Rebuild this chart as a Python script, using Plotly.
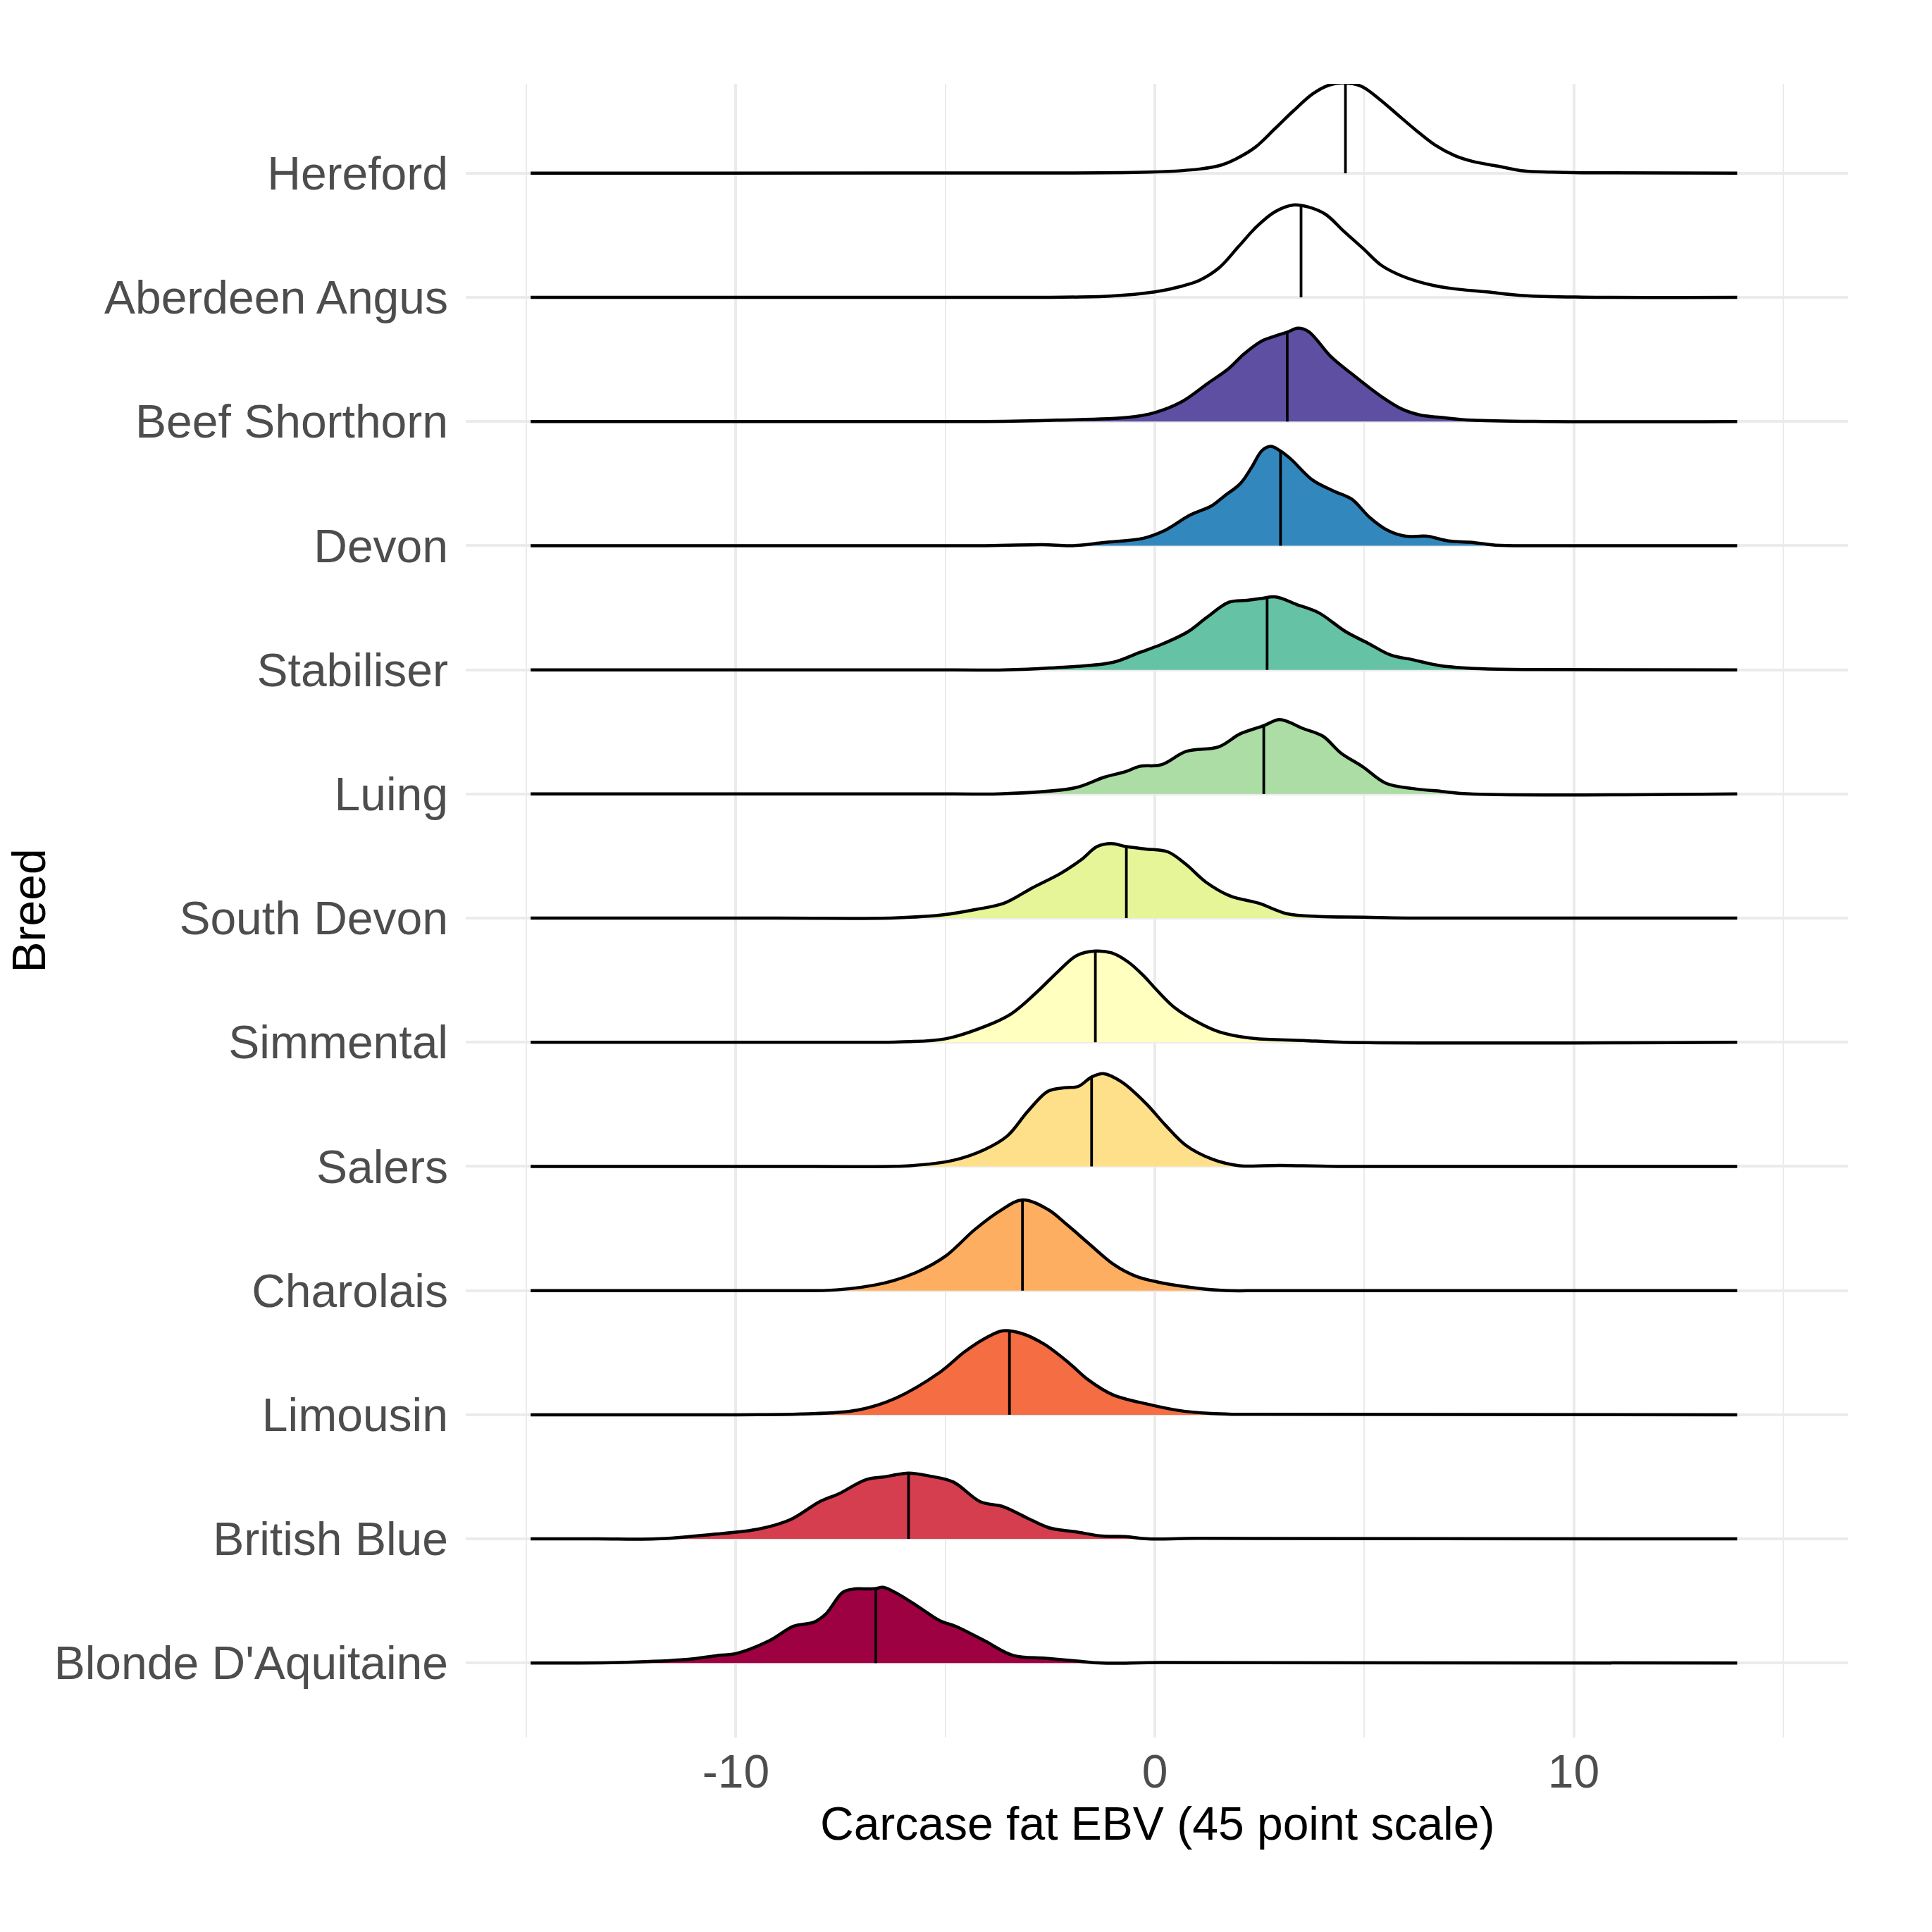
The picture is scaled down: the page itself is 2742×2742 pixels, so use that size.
import numpy as np
import plotly.graph_objects as go

# ---------------- data ----------------
breeds = ["Hereford", "Aberdeen Angus", "Beef Shorthorn", "Devon", "Stabiliser", "Luing",
          "South Devon", "Simmental", "Salers", "Charolais", "Limousin", "British Blue",
          "Blonde D'Aquitaine"]

fills = [None, None, "#5E4FA2", "#3288BD", "#66C2A5", "#ABDDA4", "#E6F598", "#FFFFBF",
         "#FEE08B", "#FDAE61", "#F46D43", "#D53E4F", "#9E0142"]

hereford_x = [-14.9, -3.2, 0, 1.07, 1.59, 1.93, 2.4, 2.87, 3.3, 3.77, 4.16, 4.5, 4.93, 5.36, 5.79,
              6.22, 6.69, 7.16, 7.59, 8.19, 8.79, 9.47, 10.2, 13.9]
hereford_h = [0, 0.002, 0.01, 0.034, 0.066, 0.114, 0.21, 0.36, 0.50, 0.64, 0.71, 0.729, 0.70, 0.597,
              0.473, 0.35, 0.227, 0.142, 0.095, 0.057, 0.019, 0.009, 0.004, 0]

angus_x = [-14.9, -3.2, -1.07, 0, 0.64, 1.07, 1.54, 2.0, 2.43, 2.87, 3.3, 3.64, 4.07, 4.5, 4.97, 5.4,
           5.87, 6.47, 7.08, 7.93, 8.79, 10.2, 13.9]
angus_h = [0, 0, 0.01, 0.044, 0.09, 0.138, 0.24, 0.41, 0.57, 0.69, 0.744, 0.73, 0.67, 0.536, 0.394,
           0.26, 0.176, 0.11, 0.072, 0.044, 0.015, 0.002, 0]

shorthorn_x = [-14.9, -4.05, -2.33, -0.62, 0, 0.63, 1.27, 1.78, 2.13, 2.56, 2.86, 3.16, 3.41, 3.67,
               4.19, 4.7, 5.39, 5.9, 6.33, 6.93, 7.53, 9.4, 13.9]
shorthorn_h = [0, 0, 0.011, 0.034, 0.072, 0.157, 0.309, 0.432, 0.545, 0.65, 0.688, 0.72, 0.752, 0.725,
               0.527, 0.384, 0.205, 0.10, 0.053, 0.03, 0.011, 0, 0]

devon_x = [-14.9, -4.05, -2.68, -1.99, -1.22, -0.27, 0.24, 0.84, 1.36, 1.66, 2.04, 2.3, 2.56, 2.77,
           2.98, 3.24, 3.76, 4.27, 4.7, 5.13, 5.56, 5.99, 6.5, 7.01, 7.53, 8.13, 9.4, 13.9]
devon_h = [0, 0, 0.008, 0, 0.025, 0.06, 0.123, 0.246, 0.322, 0.40, 0.50, 0.625, 0.767, 0.80, 0.767,
           0.70, 0.53, 0.44, 0.375, 0.227, 0.123, 0.076, 0.076, 0.038, 0.028, 0.004, 0, 0]

stabiliser_x = [-14.9, -5.73, -3.59, -2.52, -1.02, -0.38, 0.16, 0.8, 1.23, 1.77, 2.2, 2.52, 2.89, 3.38,
                3.91, 4.55, 5.09, 5.63, 6.16, 6.81, 7.77, 9.27, 13.9]
stabiliser_h = [0, 0, 0, 0.015, 0.059, 0.138, 0.205, 0.309, 0.42, 0.545, 0.56, 0.574, 0.587, 0.527,
                0.46, 0.309, 0.214, 0.119, 0.081, 0.034, 0.009, 0.002, 0]

luing_x = [-14.9, -4.9, -3.62, -1.9, -1.22, -0.7, -0.36, 0.15, 0.75, 1.53, 2.04, 2.6, 2.98, 3.54, 4.01,
           4.44, 4.96, 5.51, 6.16, 6.84, 7.53, 13.9]
luing_h = [0, 0, 0.002, 0.05, 0.134, 0.18, 0.223, 0.235, 0.343, 0.38, 0.485, 0.55, 0.60, 0.527, 0.466,
           0.33, 0.22, 0.087, 0.044, 0.021, 0, 0]

sdevon_x = [-14.9, -9.1, -6.2, -5.04, -4.27, -3.6, -2.92, -2.25, -1.76, -1.38, -1.04, -0.68, -0.22, 0.31,
            0.74, 1.22, 1.8, 2.48, 3.15, 3.92, 4.99, 6.03, 13.9]
sdevon_h = [0, 0, 0.002, 0.027, 0.07, 0.12, 0.245, 0.36, 0.47, 0.576, 0.60, 0.576, 0.557, 0.534, 0.434,
            0.29, 0.178, 0.12, 0.036, 0.013, 0.008, 0, 0]

simmental_x = [-14.9, -8.25, -5.99, -5.0, -4.04, -3.44, -2.83, -2.31, -1.86, -1.42, -1.03, -0.65, -0.28,
               0.02, 0.47, 1.08, 1.53, 2.28, 3.54, 4.5, 13.9]
simmental_h = [0, 0, 0.004, 0.028, 0.13, 0.227, 0.40, 0.57, 0.70, 0.735, 0.72, 0.65, 0.54, 0.43, 0.28,
               0.152, 0.085, 0.034, 0.015, 0, 0]

salers_x = [-14.9, -8.25, -5.84, -4.8, -4.08, -3.52, -3.03, -2.55, -2.15, -1.83, -1.51, -1.23, -0.79,
            -0.22, 0.26, 0.74, 1.38, 2.02, 2.99, 4.33, 13.9]
salers_h = [0, 0, 0.006, 0.05, 0.133, 0.246, 0.445, 0.606, 0.634, 0.644, 0.72, 0.748, 0.68, 0.51, 0.33,
            0.17, 0.057, 0.006, 0.009, 0, 0]

charolais_x = [-14.9, -9.1, -7.6, -6.47, -5.71, -5.0, -4.29, -3.68, -3.16, -2.56, -2.1, -1.58, -0.98,
               -0.45, 0.08, 0.68, 1.58, 2.69, 13.9]
charolais_h = [0, 0, 0.006, 0.06, 0.144, 0.277, 0.494, 0.646, 0.73, 0.655, 0.532, 0.38, 0.21, 0.115,
               0.068, 0.034, 0.002, 0, 0]

limousin_x = [-14.9, -9.95, -8.44, -7.09, -6.19, -5.14, -4.53, -4.0, -3.63, -3.18, -2.65, -2.05, -1.6,
              -1.0, -0.17, 0.58, 1.33, 1.84, 13.9]
limousin_h = [0, 0, 0.006, 0.038, 0.133, 0.34, 0.51, 0.625, 0.676, 0.655, 0.57, 0.417, 0.284, 0.16,
              0.085, 0.034, 0.01, 0.004, 0]

bblue_x = [-14.9, -13.3, -11.9, -10.6, -9.45, -8.7, -8.0, -7.54, -6.9, -6.45, -5.88, -5.36, -4.81, -4.17,
           -3.62, -3.08, -2.53, -1.89, -1.26, -0.71, -0.16, 1.0, 13.9]
bblue_h = [0, 0, 0, 0.035, 0.08, 0.155, 0.30, 0.364, 0.477, 0.50, 0.53, 0.505, 0.458, 0.30, 0.26, 0.174,
           0.09, 0.057, 0.023, 0.019, 0, 0.004, 0]

blonde_x = [-14.9, -12.6, -11.2, -10.4, -10.0, -9.2, -8.62, -8.13, -7.84, -7.45, -7.16, -6.87, -6.66,
            -6.49, -6.1, -5.61, -5.13, -4.74, -4.07, -3.39, -2.61, -1.94, -1.26, 0.17, 13.9]
blonde_h = [0, 0.006, 0.028, 0.062, 0.076, 0.18, 0.297, 0.33, 0.40, 0.57, 0.597, 0.597, 0.60, 0.61,
            0.55, 0.445, 0.34, 0.294, 0.18, 0.062, 0.038, 0.019, 0, 0.004, 0]

medians = [4.55, 3.49, 3.16, 3.0, 2.68, 2.6, -0.68, -1.42, -1.51, -3.16, -3.47, -5.88, -6.66]

xs_all = [hereford_x, angus_x, shorthorn_x, devon_x, stabiliser_x, luing_x, sdevon_x, simmental_x,
          salers_x, charolais_x, limousin_x, bblue_x, blonde_x]
hs_all = [hereford_h, angus_h, shorthorn_h, devon_h, stabiliser_h, luing_h, sdevon_h, simmental_h,
          salers_h, charolais_h, limousin_h, bblue_h, blonde_h]

x_ticks = [-10, 0, 10]
x_ticktext = ["-10", "0", "10"]

# ---------------- layout constants ----------------
W = H = 2742
L, R, T, B = 661, 119, 119, 276
FONT = "Liberation Sans, Arial, Helvetica, sans-serif"
n = len(breeds)

fig = go.Figure()

# draw from the bottom row upward
for i in reversed(range(n)):
    base = n - i
    xs = np.array(xs_all[i], dtype=float)
    ys = base + np.array(hs_all[i], dtype=float)
    # invisible baseline to fill against
    fig.add_trace(go.Scatter(x=[xs[0], xs[-1]], y=[base, base], mode="lines",
                             line=dict(width=0, color="rgba(0,0,0,0)"),
                             hoverinfo="skip", showlegend=False))
    fig.add_trace(go.Scatter(
        x=xs, y=ys, mode="lines",
        line=dict(color="black", width=4.5, shape="spline", smoothing=1.0),
        fill="tonexty" if fills[i] else "none",
        fillcolor=fills[i] if fills[i] else "rgba(0,0,0,0)",
        hoverinfo="skip", showlegend=False))
    m = medians[i]
    hm = float(np.interp(m, xs, np.array(hs_all[i], dtype=float)))
    fig.add_trace(go.Scatter(x=[m, m], y=[base, base + hm], mode="lines",
                             line=dict(color="black", width=3.8),
                             hoverinfo="skip", showlegend=False))

plot_w = W - L - R
plot_h = H - T - B

fig.update_layout(
    width=W, height=H,
    margin=dict(l=L, r=R, t=T, b=B, pad=0),
    paper_bgcolor="white", plot_bgcolor="white",
    font=dict(family=FONT, size=66, color="#4D4D4D"),
    showlegend=False,
    xaxis=dict(
        range=[-16.45, 16.55], tickvals=x_ticks, ticktext=x_ticktext,
        showgrid=True, gridcolor="#EBEBEB", gridwidth=3.5,
        minor=dict(dtick=5, tick0=0, showgrid=True, gridcolor="#EBEBEB", gridwidth=1.8),
        zeroline=False, showline=False, ticks="",
        ticklabelstandoff=4,
        tickfont=dict(family=FONT, size=66, color="#4D4D4D"),
    ),
    yaxis=dict(
        range=[0.40, 13.72], tickvals=list(range(1, n + 1)), ticktext=breeds[::-1],
        showgrid=True, gridcolor="#EBEBEB", gridwidth=3.5,
        zeroline=False, showline=False, ticks="",
        ticklabelstandoff=24,
        tickfont=dict(family=FONT, size=66, color="#4D4D4D"),
    ),
    annotations=[
        dict(text="Carcase fat EBV (45 point scale)", xref="paper", yref="paper",
             x=0.5, y=(0 - (2588 - (H - B))) / plot_h, xanchor="center", yanchor="middle",
             showarrow=False, font=dict(family=FONT, size=66, color="black")),
        dict(text="Breed", xref="paper", yref="paper",
             x=(40 - L) / plot_w, y=0.5, xanchor="center", yanchor="middle", textangle=-90,
             showarrow=False, font=dict(family=FONT, size=66, color="black")),
    ],
)

fig.write_html("out.html")
